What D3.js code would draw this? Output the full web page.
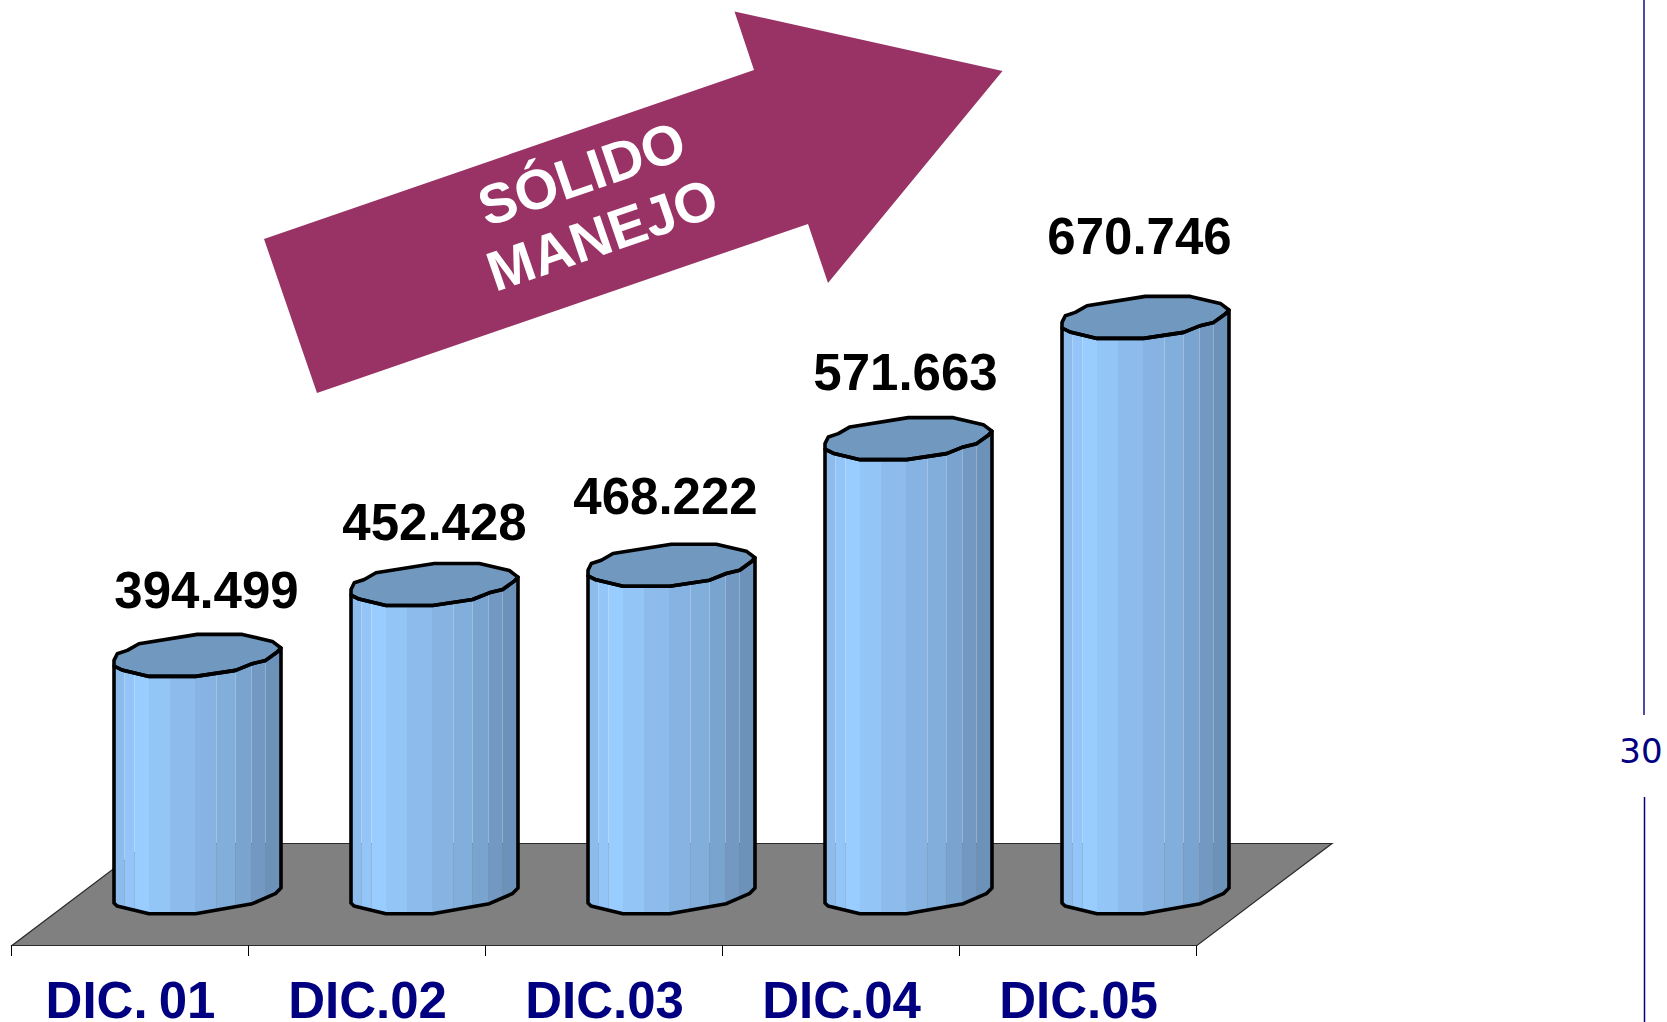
<!DOCTYPE html>
<html>
<head>
<meta charset="utf-8">
<script src="https://cdn.jsdelivr.net/npm/d3@7"></script>
<style>
  html, body { margin: 0; padding: 0; background: #fff; overflow: hidden; }
  svg { display: block; }
</style>
</head>
<body>
<div id="chart"></div>
<script>
// chart data
var categories = ["DIC. 01", "DIC.02", "DIC.03", "DIC.04", "DIC.05"];
var values = [394499, 452428, 468222, 571663, 670746];
var valueLabels = ["394.499", "452.428", "468.222", "571.663", "670.746"];
// labels were moved by hand in the original
var labelShiftX = [9, 0, -6, -3, -6];
var labelGap = [59, 56, 62.5, 60.4, 75.5];
var arrowLines = ["SÓLIDO", "MANEJO"];
var sideLabel = "30";

var width = 1667, height = 1022;

var svg = d3.select("#chart").append("svg")
    .attr("width", width)
    .attr("height", height);

var x = d3.scaleBand().domain(categories).range([12, 1197]);
var y = d3.scaleLinear().domain([201600, 670746]).range([903, 329]);

// floor of the 3d chart
var floorFront = 945.5, floorBack = 843.5, depthX = 135;
svg.append("polygon")
    .attr("points", [[12, floorFront], [1197, floorFront], [1197 + depthX, floorBack], [12 + depthX, floorBack]].join(" "))
    .attr("fill", "#808080")
    .attr("stroke", "#2b2b2b")
    .attr("stroke-width", 1.2);

// ticks sit on the band edges, not in the middle
svg.selectAll(".tick-mark")
    .data(d3.range(categories.length + 1))
    .enter().append("line")
    .attr("class", "tick-mark")
    .attr("x1", function(d) { return 12 + d * x.step() - 0.5; })
    .attr("x2", function(d) { return 12 + d * x.step() - 0.5; })
    .attr("y1", floorFront)
    .attr("y2", 956)
    .attr("stroke", "#000")
    .attr("stroke-width", 1);

// category labels
var xAxis = svg.append("g")
    .attr("transform", "translate(0,956)")
    .call(d3.axisBottom(x).tickSize(0).tickPadding(0));
xAxis.select(".domain").remove();
xAxis.selectAll("text")
    .attr("y", 0)
    .attr("dy", 62)
    .style("font-family", "'Liberation Sans', Arial, sans-serif")
    .style("font-weight", "bold")
    .style("font-size", "51px")
    .style("word-spacing", "-3px")
    .style("fill", "#000080");

// outline of the faceted cylinder, relative to its front left corner
var barOffset = 102;
var topShape = [[0, -1], [0, -6.6], [3.3, -13.3], [13.3, -16.6], [25, -23.3], [83.3, -32.6], [128.3, -32.6],
    [158.3, -25.6], [167, -19], [163.3, -15], [151.6, -6.6], [138.3, -3.3], [121.6, 3.4], [81.6, 9.4], [35, 9.4], [8, 3]];
var frontTop = [[0, -1], [8, 3], [35, 9.4], [81.6, 9.4], [121.6, 3.4], [138.3, -3.3], [151.6, -6.6], [163.3, -15], [167, -19]];
var bottomShape = [[0, 0], [3, 3], [35, 10.7], [81.6, 10.7], [138.3, 0.7], [161.3, -9.3], [167, -15]];

// facets, fractional edges leave the thin seams seen in the picture
var facetEdges = [0, 10.5, 20.5, 35, 56, 81, 102.5, 121.5, 137.5, 151.5, 167];
var facetColors = ["#8dbcec", "#93c5f8", "#99ccff", "#93c5f6", "#8dbcec", "#86b3e2", "#82aedb", "#7aa4d0", "#7399c3", "#6c92b9"];
var topColor = "#7199c0";

var line = d3.line().curve(d3.curveLinear);

var defs = svg.append("defs");

var bars = svg.selectAll(".bar")
    .data(values)
    .enter().append("g")
    .attr("class", "bar")
    .attr("transform", function(d, i) { return "translate(" + (x(categories[i]) + barOffset) + ",0)"; });

bars.each(function(d, i) {
    var g = d3.select(this);
    var yTop = y(d), yBase = y.range()[0];
    var topFront = frontTop.map(function(p) { return [p[0], yTop + p[1]]; });
    var bottom = bottomShape.map(function(p) { return [p[0], yBase + p[1]]; });
    var body = topFront.concat(bottom.slice().reverse());

    defs.append("clipPath").attr("id", "body" + i)
        .append("path").attr("d", line(body) + "Z");

    g.append("g").attr("clip-path", "url(#body" + i + ")")
        .selectAll("rect")
        .data(facetColors)
        .enter().append("rect")
        .attr("x", function(c, j) { return facetEdges[j]; })
        .attr("width", function(c, j) { return facetEdges[j + 1] - facetEdges[j]; })
        .attr("y", yTop - 40)
        .attr("height", yBase - yTop + 60)
        .attr("fill", function(c) { return c; });

    g.append("path")
        .attr("d", line(topShape.map(function(p) { return [p[0], yTop + p[1]]; })) + "Z")
        .attr("fill", topColor)
        .attr("stroke", "#000")
        .attr("stroke-width", 3.6)
        .attr("stroke-linejoin", "round");

    g.append("path")
        .attr("d", line(body) + "Z")
        .attr("fill", "none")
        .attr("stroke", "#000")
        .attr("stroke-width", 3.6)
        .attr("stroke-linejoin", "round");
});

// value labels
svg.selectAll(".value-label")
    .data(values)
    .enter().append("text")
    .attr("class", "value-label")
    .attr("x", function(d, i) { return x(categories[i]) + barOffset + 83.5 + labelShiftX[i]; })
    .attr("y", function(d, i) { return y(d) - labelGap[i]; })
    .attr("text-anchor", "middle")
    .style("font-family", "'Liberation Sans', Arial, sans-serif")
    .style("font-weight", "bold")
    .style("font-size", "51px")
    .style("fill", "#000")
    .text(function(d, i) { return valueLabels[i]; });

// arrow
var arrowPoints = [[264, 239], [754, 70], [734.5, 11.5], [1002.5, 71], [828, 283], [808, 224], [317, 393]];
svg.append("polygon")
    .attr("points", arrowPoints.join(" "))
    .attr("fill", "#993366");

var arrowText = [[581.5, 173], [602, 234]];
svg.selectAll(".arrow-text")
    .data(arrowLines)
    .enter().append("text")
    .attr("class", "arrow-text")
    .attr("transform", function(d, i) { return "translate(" + arrowText[i] + ") rotate(-19)"; })
    .attr("text-anchor", "middle")
    .attr("dy", "0.36em")
    .style("font-family", "'Liberation Sans', Arial, sans-serif")
    .style("font-weight", "bold")
    .style("font-size", "56px")
    .style("fill", "#fff")
    .text(function(d) { return d; });

// broken line at the right edge
svg.append("line")
    .attr("x1", 1644).attr("x2", 1644)
    .attr("y1", 0).attr("y2", 715)
    .attr("stroke", "#000080").attr("stroke-width", 1.4);
svg.append("line")
    .attr("x1", 1644.5).attr("x2", 1644.5)
    .attr("y1", 797).attr("y2", height)
    .attr("stroke", "#000080").attr("stroke-width", 1.5);
svg.append("text")
    .attr("x", 1641)
    .attr("y", 763)
    .attr("text-anchor", "middle")
    .style("font-family", "'DejaVu Sans', sans-serif")
    .style("font-size", "34px")
    .style("fill", "#000080")
    .text(sideLabel);
</script>
</body>
</html>
